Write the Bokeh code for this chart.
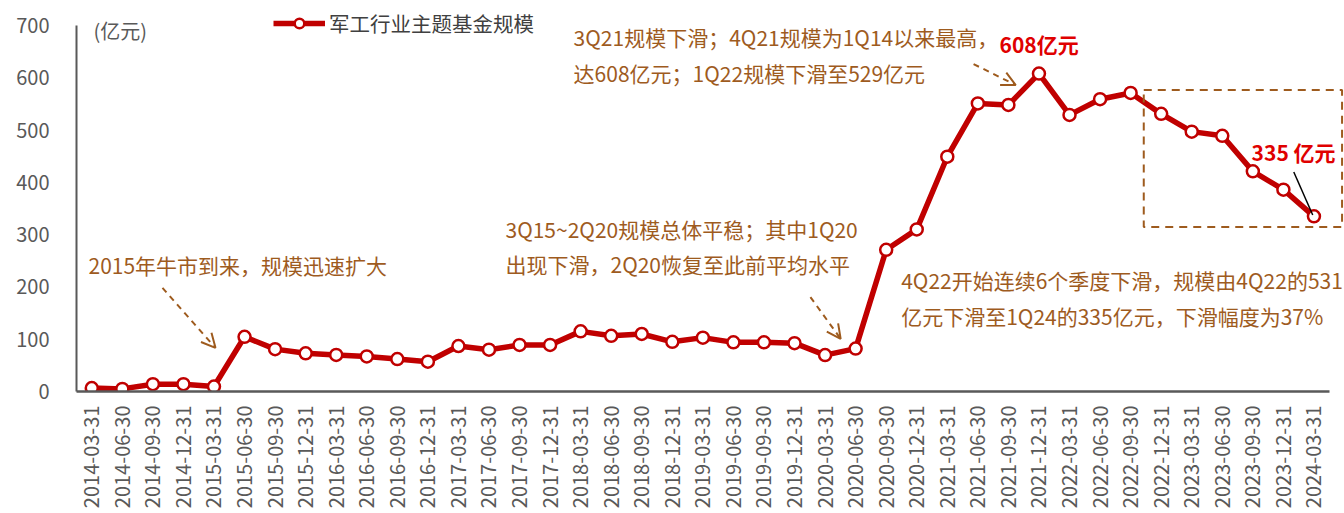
import math
from bokeh.plotting import figure
from bokeh.models import (Range1d, FixedTicker, Label, Arrow, OpenHead, BoxAnnotation,
                          Legend, LegendItem, Segment, ColumnDataSource)
from bokeh.embed import file_html
from bokeh.resources import INLINE

# ---- data ----
dates = ["2014-03-31", "2014-06-30", "2014-09-30", "2014-12-31",
         "2015-03-31", "2015-06-30", "2015-09-30", "2015-12-31",
         "2016-03-31", "2016-06-30", "2016-09-30", "2016-12-31",
         "2017-03-31", "2017-06-30", "2017-09-30", "2017-12-31",
         "2018-03-31", "2018-06-30", "2018-09-30", "2018-12-31",
         "2019-03-31", "2019-06-30", "2019-09-30", "2019-12-31",
         "2020-03-31", "2020-06-30", "2020-09-30", "2020-12-31",
         "2021-03-31", "2021-06-30", "2021-09-30", "2021-12-31",
         "2022-03-31", "2022-06-30", "2022-09-30", "2022-12-31",
         "2023-03-31", "2023-06-30", "2023-09-30", "2023-12-31",
         "2024-03-31"]
fund_size = [6.5, 5, 14, 14, 9.5, 104.6, 81, 73, 70, 67, 62, 57,
             87, 80, 89, 89, 115, 106.5, 110, 95, 103, 94, 94, 92.5,
             69.6, 82, 271, 310, 449, 551, 548, 608, 529, 559, 571, 531,
             497, 489, 421, 386, 335]
y_ticks = [0, 100, 200, 300, 400, 500, 600, 700]
series_name = "军工行业主题基金规模"
unit_label = "(亿元)"

FONT = "Noto Sans CJK SC"
RED = "#C00000"
BROWN = "#9E5B1E"
BRIGHT_RED = "#E00000"
GRAY = "#595959"

xs = list(range(len(dates)))
src = ColumnDataSource(dict(x=xs, y=fund_size))

p = figure(width=1344, height=513, output_backend="svg", toolbar_location=None,
           x_range=Range1d(-0.5, 41.0), y_range=Range1d(0, 732.5),
           min_border_left=76, min_border_right=0, min_border_top=8,
           min_border_bottom=122)
p.outline_line_color = None
p.xgrid.grid_line_color = None
p.ygrid.grid_line_color = None
p.background_fill_color = "white"
p.border_fill_color = "white"

# y axis
p.yaxis.ticker = FixedTicker(ticks=y_ticks)
p.yaxis.bounds = (0, 700)
p.yaxis.axis_line_color = GRAY
p.yaxis.axis_line_width = 2
p.yaxis.major_tick_out = 0
p.yaxis.major_tick_in = 0
p.yaxis.minor_tick_out = 0
p.yaxis.minor_tick_in = 0
p.yaxis.major_label_standoff = 27
p.yaxis.major_label_text_font = FONT
p.yaxis.major_label_text_font_size = "20px"
p.yaxis.major_label_text_color = GRAY

# x axis
p.xaxis.ticker = FixedTicker(ticks=xs)
p.xaxis.bounds = (-0.5, 40.5)
p.xaxis.major_label_overrides = {i: d for i, d in zip(xs, dates)}
p.xaxis.major_label_orientation = math.pi / 2
p.xaxis.axis_line_color = GRAY
p.xaxis.axis_line_width = 2.5
p.xaxis.major_tick_out = 0
p.xaxis.major_tick_in = 0
p.xaxis.minor_tick_out = 0
p.xaxis.minor_tick_in = 0
p.xaxis.major_label_standoff = 14
p.xaxis.major_label_text_font = FONT
p.xaxis.major_label_text_font_size = "20px"
p.xaxis.major_label_text_color = GRAY

# series
ln = p.line("x", "y", source=src, line_color=RED, line_width=5.5)
sc = p.scatter("x", "y", source=src, marker="circle", size=12, fill_color="white",
               line_color=RED, line_width=2.5)

legend = Legend(items=[LegendItem(label=series_name, renderers=[ln, sc])],
                location=(197, 353), padding=0, margin=0, spacing=0,
                glyph_width=52, glyph_height=24, label_height=24, label_standoff=4,
                label_text_font=FONT, label_text_font_size="20.5px",
                label_text_color="#404040", border_line_color=None,
                background_fill_alpha=0)
p.add_layout(legend, "center")

def add_label(x, y, text, color=BROWN, size="21px", bold=False):
    p.add_layout(Label(x=x, y=y, text=text, text_font=FONT, text_font_size=size,
                       text_color=color, text_baseline="middle", text_align="left",
                       text_font_style="bold" if bold else "normal"))

add_label(0.056, 691.0, unit_label, color=GRAY, size="20px")
add_label(-0.108, 242.1, "2015年牛市到来，规模迅速扩大")
add_label(13.54, 310.9, "3Q15~2Q20规模总体平稳；其中1Q20")
add_label(13.54, 244.0, "出现下滑，2Q20恢复至此前平均水平")
add_label(15.77, 678.4, "3Q21规模下滑；4Q21规模为1Q14以来最高，")
add_label(15.77, 609.6, "达608亿元；1Q22规模下滑至529亿元")
add_label(29.71, 665.0, "608亿元", color=BRIGHT_RED, size="21px", bold=True)
add_label(37.96, 457.5, "335 亿元", color=BRIGHT_RED, size="21px", bold=True)
add_label(26.49, 213.5, "4Q22开始连续6个季度下滑，规模由4Q22的531")
add_label(26.49, 144.7, "亿元下滑至1Q24的335亿元，下滑幅度为37%")

def add_arrow(x0, y0, x1, y1):
    p.add_layout(Arrow(x_start=x0, y_start=y0, x_end=x1, y_end=y1,
                       line_color=BROWN, line_width=2, line_dash="6 5",
                       end=OpenHead(size=14, line_color=BROWN, line_width=2)))

add_arrow(2.314, 198.2, 4.049, 83.5)
add_arrow(23.52, 180.6, 24.51, 100.7)
add_arrow(28.86, 626.2, 30.24, 586.1)

# pointer line for 335 label
p.add_glyph(ColumnDataSource(dict(x0=[39.34], y0=[419.8], x1=[39.96], y1=[337.6])),
            Segment(x0="x0", y0="y0", x1="x1", y1="y1", line_color="black", line_width=1.5))

p.add_layout(BoxAnnotation(left=34.43, right=40.92, bottom=314.7, top=576.5,
                           fill_alpha=0, line_color=BROWN, line_alpha=1, line_width=2,
                           line_dash="8 6"))

open("out.html", "w").write(file_html(p, INLINE))
